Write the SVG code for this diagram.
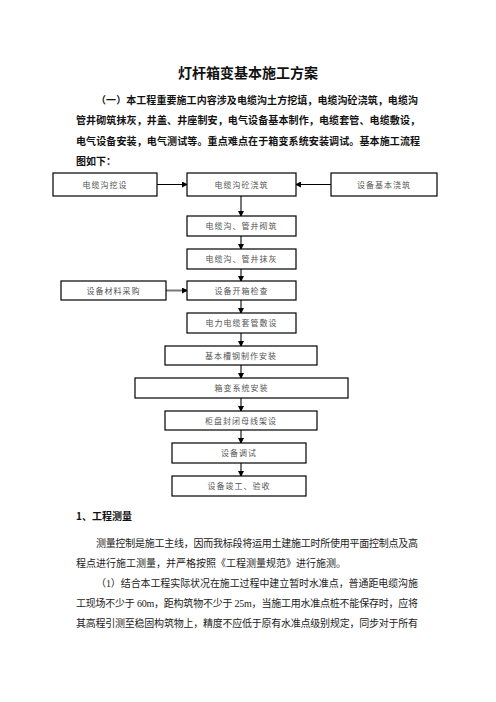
<svg xmlns="http://www.w3.org/2000/svg" width="496" height="702" viewBox="0 0 496 702">
<style>
.bg{fill:#fff}
.box{fill:#fff;stroke:#000;stroke-width:1.2}
.bt{font-family:"Liberation Serif","Noto Sans CJK SC",serif;font-size:8px;fill:#555;text-anchor:middle;letter-spacing:1px}
.title{font-family:"Noto Sans CJK SC",sans-serif;font-size:14px;font-weight:bold;fill:#111;text-anchor:middle}
.para{font-family:"Noto Sans CJK SC",sans-serif;font-size:10px;font-weight:bold;fill:#111}
.body{font-family:"Liberation Serif","Noto Sans CJK SC",serif;font-size:10px;fill:#222}
.thin{stroke:#000;stroke-width:1;fill:none}
.thick{stroke:#777;stroke-width:2;fill:none}
</style>
<defs>
<marker id="ah" markerWidth="6" markerHeight="6" refX="5" refY="3" orient="auto" markerUnits="userSpaceOnUse">
<path d="M0,0 L6,3 L0,6 z" fill="#000"/>
</marker>
</defs>
<rect class="bg" x="0" y="0" width="496" height="702"/>

<g id="text">
<text class="title" x="248" y="78">灯杆箱变基本施工方案</text>
<text class="para" x="96" y="104" textLength="322" lengthAdjust="spacing">（一）本工程重要施工内容涉及电缆沟土方挖填，电缆沟砼浇筑，电缆沟</text>
<text class="para" x="76" y="124" textLength="344" lengthAdjust="spacing">管井砌筑抹灰，井盖、井座制安，电气设备基本制作，电缆套管、电缆敷设，</text>
<text class="para" x="76" y="145" textLength="344" lengthAdjust="spacing">电气设备安装，电气测试等。重点难点在于箱变系统安装调试。基本施工流程</text>
<text class="para" x="76" y="165">图如下：</text>
<text class="para" x="76" y="520">1、工程测量</text>
<text class="body" x="96" y="547" textLength="322" lengthAdjust="spacing">测量控制是施工主线，因而我标段将运用土建施工时所使用平面控制点及高</text>
<text class="body" x="76" y="567">程点进行施工测量，并严格按照《工程测量规范》进行施测。</text>
<text class="body" x="96" y="587" textLength="322" lengthAdjust="spacing">（1）结合本工程实际状况在施工过程中建立暂时水准点，普通距电缆沟施</text>
<text class="body" x="76" y="607" textLength="342" lengthAdjust="spacing">工现场不少于 60m，距构筑物不少于 25m，当施工用水准点桩不能保存时，应将</text>
<text class="body" x="76" y="627" textLength="342" lengthAdjust="spacing">其高程引测至稳固构筑物上，精度不应低于原有水准点级别规定，同步对于所有</text>
</g>

<g id="connectors">
<line class="thin" x1="157" y1="184.5" x2="187" y2="184.5" marker-end="url(#ah)"/>
<line class="thin" x1="331" y1="184.5" x2="296" y2="184.5" marker-end="url(#ah)"/>
<line class="thick" x1="166" y1="290.5" x2="187" y2="290.5" marker-end="url(#ah)"/>
<line class="thick" x1="241" y1="196" x2="241" y2="216" marker-end="url(#ah)"/>
<line class="thick" x1="241" y1="236" x2="241" y2="249" marker-end="url(#ah)"/>
<line class="thick" x1="241" y1="269" x2="241" y2="281" marker-end="url(#ah)"/>
<line class="thick" x1="241" y1="300" x2="241" y2="313" marker-end="url(#ah)"/>
<line class="thick" x1="241" y1="333" x2="241" y2="346" marker-end="url(#ah)"/>
<line class="thick" x1="241" y1="365" x2="241" y2="378" marker-end="url(#ah)"/>
<line class="thick" x1="241" y1="398" x2="241" y2="411" marker-end="url(#ah)"/>
<line class="thick" x1="241" y1="430" x2="241" y2="443" marker-end="url(#ah)"/>
<line class="thick" x1="241" y1="463" x2="241" y2="476" marker-end="url(#ah)"/>
</g>

<g id="n1"><rect class="box" x="53" y="173" width="104" height="23"/><text class="bt" x="105" y="188">电缆沟挖设</text></g>
<g id="n2"><rect class="box" x="187" y="173" width="109" height="23"/><text class="bt" x="241.5" y="188">电缆沟砼浇筑</text></g>
<g id="n3"><rect class="box" x="331" y="173" width="106" height="23"/><text class="bt" x="384" y="188">设备基本浇筑</text></g>
<g id="n4"><rect class="box" x="187" y="216" width="109" height="20"/><text class="bt" x="241.5" y="229">电缆沟、管井砌筑</text></g>
<g id="n5"><rect class="box" x="187" y="249" width="109" height="20"/><text class="bt" x="241.5" y="262">电缆沟、管井抹灰</text></g>
<g id="n6"><rect class="box" x="187" y="281" width="109" height="19"/><text class="bt" x="241.5" y="293.5">设备开箱检查</text></g>
<g id="n7"><rect class="box" x="61" y="281" width="105" height="19"/><text class="bt" x="113.5" y="293.5">设备材料采购</text></g>
<g id="n8"><rect class="box" x="187" y="313" width="109" height="20"/><text class="bt" x="241.5" y="326">电力电缆套管敷设</text></g>
<g id="n9"><rect class="box" x="165" y="346" width="152" height="19"/><text class="bt" x="241" y="358.5">基本槽钢制作安装</text></g>
<g id="n10"><rect class="box" x="135" y="378" width="213" height="20"/><text class="bt" x="241.5" y="391">箱变系统安装</text></g>
<g id="n11"><rect class="box" x="165" y="411" width="152" height="19"/><text class="bt" x="241" y="423.5">柜盘封闭母线架设</text></g>
<g id="n12"><rect class="box" x="172" y="443" width="134" height="20"/><text class="bt" x="239" y="456">设备调试</text></g>
<g id="n13"><rect class="box" x="172" y="476" width="134" height="20"/><text class="bt" x="239" y="489">设备竣工、验收</text></g>
</svg>
